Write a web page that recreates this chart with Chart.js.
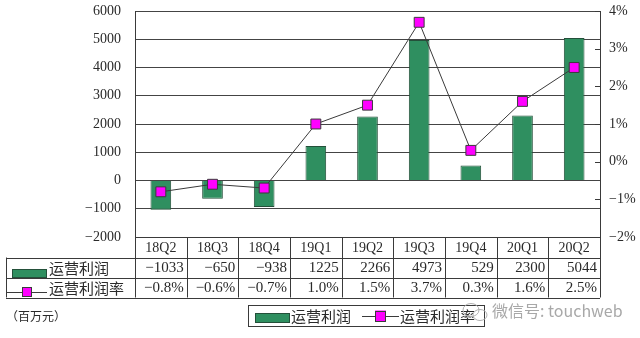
<!DOCTYPE html>
<html>
<head>
<meta charset="utf-8">
<script src="https://cdn.jsdelivr.net/npm/chart.js@4"></script>
<style>
  html, body { margin: 0; padding: 0; background: #fff; }
  #wrap { width: 640px; height: 338px; position: relative; }
</style>
</head>
<body>
<div id="wrap"><canvas id="c" width="640" height="338"></canvas></div>
<script>
// Quarterly operating profit (million yuan) and operating margin (%)
const categories = ['18Q2', '18Q3', '18Q4', '19Q1', '19Q2', '19Q3', '19Q4', '20Q1', '20Q2'];
const profit = [-1033, -650, -938, 1225, 2266, 4973, 529, 2300, 5044];
const margin = [-0.8, -0.6, -0.7, 1.0, 1.5, 3.7, 0.3, 1.6, 2.5];
const profitName = '运营利润';
const marginName = '运营利润率';
const unitNote = '（百万元）';
const watermark = '微信号: touchweb';

const SERIF = "'Liberation Serif', 'Noto Sans CJK SC', serif";
const CJK = "'Noto Sans CJK SC', sans-serif";
const INK = '#2a2a2a';
const RULE = '#3a3a3a';
const BAR = '#2f8f60';
const BAR_EDGE = '#24503a';
const MARK = '#ff00ff';

const fmtNum = v => (v < 0 ? '\u2212' + Math.abs(v) : String(v));
const fmtPct = v => (v < 0 ? '\u2212' + Math.abs(v).toFixed(1) : v.toFixed(1)) + '%';

function crisp(v) { return Math.round(v) + 0.5; }

function hLine(ctx, x1, x2, y) {
  ctx.beginPath(); ctx.moveTo(x1, crisp(y)); ctx.lineTo(x2, crisp(y)); ctx.stroke();
}
function vLine(ctx, x, y1, y2) {
  ctx.beginPath(); ctx.moveTo(crisp(x), y1); ctx.lineTo(crisp(x), y2); ctx.stroke();
}
function barSwatch(ctx, x, y, w, h) {
  ctx.fillStyle = BAR; ctx.fillRect(x, y, w, h);
  ctx.strokeStyle = BAR_EDGE; ctx.lineWidth = 1;
  ctx.strokeRect(crisp(x), crisp(y), w - 1, h - 1);
}
function lineSwatch(ctx, x1, x2, y, sq) {
  ctx.strokeStyle = RULE; ctx.lineWidth = 1;
  hLine(ctx, x1, x2, y);
  const cx = (x1 + x2) / 2;
  ctx.fillStyle = MARK;
  ctx.fillRect(cx - sq / 2, y - sq / 2, sq, sq);
  ctx.strokeRect(crisp(cx - sq / 2), crisp(y - sq / 2), sq - 1, sq - 1);
}

// Axis boxes: fixed widths, no extra vertical room for the end labels
function fixAxis(width) {
  return s => { s.width = width; s.paddingTop = 0; s.paddingBottom = 0; };
}

// Data table under the plot, legend box, unit note and account tag
const tablePlugin = {
  id: 'dataTable',
  afterDraw(chart) {
    const ctx = chart.ctx;
    const area = chart.chartArea;
    const y1s = chart.scales.y1;
    const n = categories.length;
    const colW = (area.right - area.left) / n;
    const tableLeft = 6;
    const r0 = area.bottom, r1 = 257.5, r2 = 277.5, r3 = 297.5;

    ctx.save();
    // short inner ticks on the right axis
    ctx.strokeStyle = RULE; ctx.lineWidth = 1;
    y1s.ticks.forEach(t => {
      const y = y1s.getPixelForValue(t.value);
      hLine(ctx, area.right - 5, area.right, y);
    });

    // table rules
    hLine(ctx, area.left, area.right, r0);
    hLine(ctx, tableLeft, area.right, r1);
    hLine(ctx, tableLeft, area.right, r2);
    hLine(ctx, tableLeft, area.right, r3);
    for (let i = 0; i <= n; i++) {
      vLine(ctx, area.left + i * colW, r0, r3);
    }
    vLine(ctx, tableLeft, r1, r3);

    // table text
    ctx.fillStyle = INK;
    ctx.textBaseline = 'middle';
    ctx.font = '14px ' + SERIF;
    ctx.textAlign = 'center';
    categories.forEach((c, i) => {
      ctx.fillText(c, area.left + (i + 0.5) * colW, (r0 + r1) / 2 + 1);
    });
    ctx.textAlign = 'right';
    ctx.font = '15px ' + SERIF;
    profit.forEach((v, i) => {
      ctx.fillText(fmtNum(v), area.left + (i + 1) * colW - 3, (r1 + r2) / 2 + 1);
    });
    margin.forEach((v, i) => {
      ctx.fillText(fmtPct(v), area.left + (i + 1) * colW - 3, (r2 + r3) / 2 + 1);
    });

    // row headers
    barSwatch(ctx, 12, 269, 35, 9);
    lineSwatch(ctx, 7, 47, 292, 10);
    ctx.fillStyle = INK;
    ctx.textAlign = 'left';
    ctx.font = '15px ' + CJK;
    ctx.fillText(profitName, 49, (r1 + r2) / 2 + 1);
    ctx.fillText(marginName, 49, (r2 + r3) / 2 + 1);

    // unit note
    ctx.font = '12px ' + CJK;
    ctx.fillText(unitNote, 6, 316);

    // legend box
    ctx.strokeStyle = RULE;
    ctx.strokeRect(248.5, 305.5, 236, 21);
    barSwatch(ctx, 255, 313, 35, 10);
    ctx.fillStyle = INK;
    ctx.font = '15px ' + CJK;
    ctx.fillText(profitName, 291, 316.5);
    lineSwatch(ctx, 362, 399, 316, 11);
    ctx.fillStyle = INK;
    ctx.font = '15px ' + CJK;
    ctx.fillText(marginName, 400, 316.5);

    // account tag
    ctx.strokeStyle = '#b0b0b0';
    ctx.beginPath(); ctx.ellipse(471, 310, 8, 6.5, 0, 0, Math.PI * 2); ctx.stroke();
    ctx.beginPath(); ctx.ellipse(480, 315, 7, 5.5, 0, 0, Math.PI * 2); ctx.stroke();
    ctx.fillStyle = '#a8a8a8';
    ctx.font = '16px ' + CJK;
    ctx.fillText(watermark, 492, 311);
    ctx.restore();
  }
};

new Chart(document.getElementById('c'), {
  data: {
    labels: categories,
    datasets: [
      {
        type: 'line',
        label: marginName,
        data: margin,
        yAxisID: 'y1',
        order: 1,
        borderColor: RULE,
        borderWidth: 1,
        pointStyle: 'rect',
        pointRadius: 7,
        pointBackgroundColor: MARK,
        pointBorderColor: RULE,
        pointBorderWidth: 1,
        tension: 0
      },
      {
        type: 'bar',
        label: profitName,
        data: profit,
        yAxisID: 'y',
        order: 2,
        backgroundColor: BAR,
        borderColor: BAR_EDGE,
        borderWidth: 1,
        categoryPercentage: 0.8,
        barPercentage: 0.5
      }
    ]
  },
  options: {
    responsive: false,
    animation: false,
    events: [],
    layout: { autoPadding: false, padding: { top: 11, bottom: 101, left: 0, right: 0 } },
    plugins: { legend: { display: false }, tooltip: { enabled: false } },
    scales: {
      x: { display: false, offset: true },
      y: {
        position: 'left',
        min: -2000, max: 6000,
        ticks: { stepSize: 1000, color: INK, padding: 14, font: { family: SERIF, size: 14 }, callback: v => fmtNum(v) },
        grid: { color: '#444', lineWidth: 1, drawTicks: false },
        border: { display: true, color: RULE, width: 1 },
        afterFit: fixAxis(135)
      },
      y1: {
        position: 'right',
        min: -2, max: 4,
        ticks: { stepSize: 1, color: INK, padding: 9, font: { family: SERIF, size: 14 }, callback: v => fmtNum(v) + '%' },
        grid: { drawOnChartArea: false, drawTicks: false },
        border: { display: true, color: RULE, width: 1 },
        afterFit: fixAxis(40)
      }
    }
  },
  plugins: [tablePlugin]
});
</script>
</body>
</html>
